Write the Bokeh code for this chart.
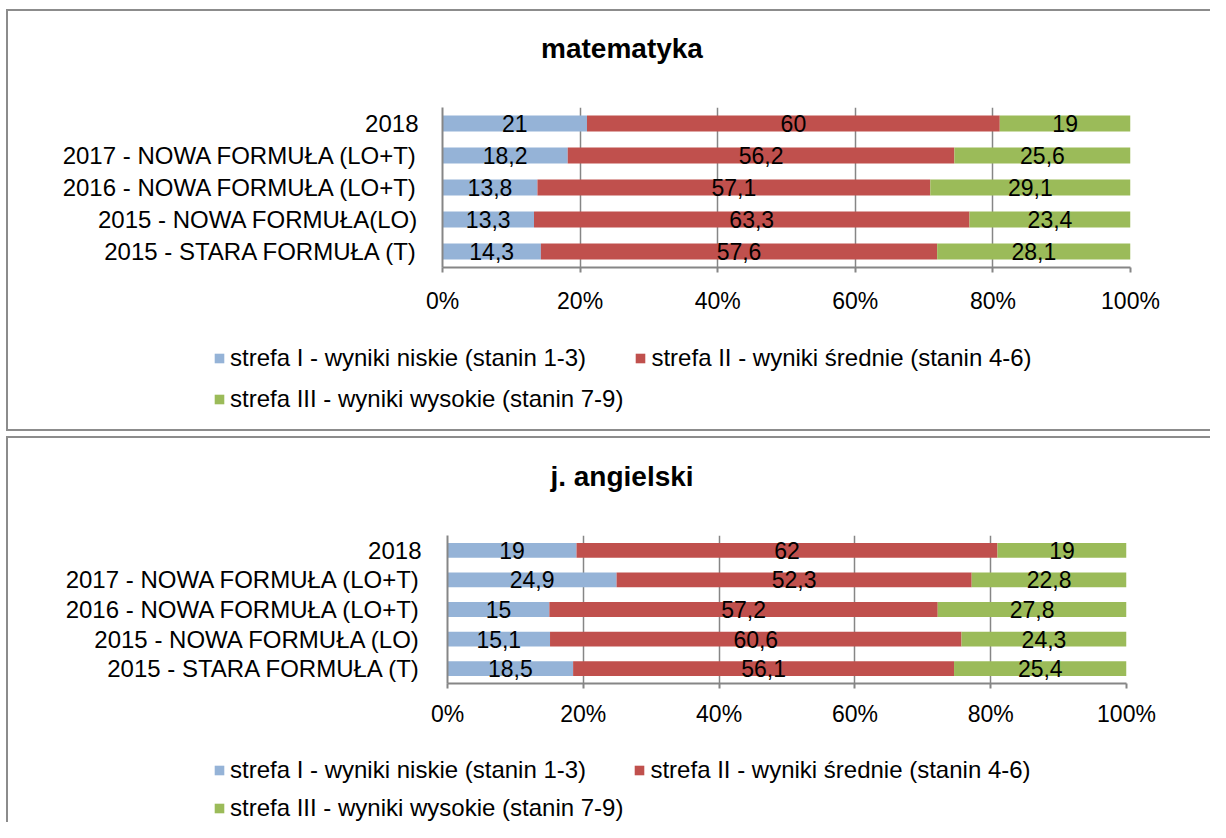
from bokeh.plotting import figure
from bokeh.models import (FactorRange, Range1d, FixedTicker, PrintfTickFormatter,
                          Legend, LegendItem, ColumnDataSource, Spacer, Label)
from bokeh.layouts import column, row
from bokeh.core.properties import value
from bokeh.embed import file_html
from bokeh.resources import INLINE

# ---------------- data ----------------
series_names = ["strefa I - wyniki niskie (stanin 1-3)",
                "strefa II - wyniki średnie (stanin 4-6)",
                "strefa III - wyniki wysokie (stanin 7-9)"]

math_title = "matematyka"
math_categories = ["2018", "2017 - NOWA FORMUŁA (LO+T)", "2016 - NOWA FORMUŁA (LO+T)",
                   "2015 - NOWA FORMUŁA(LO)", "2015 - STARA FORMUŁA (T)"]
math_low = [21, 18.2, 13.8, 13.3, 14.3]
math_mid = [60, 56.2, 57.1, 63.3, 57.6]
math_high = [19, 25.6, 29.1, 23.4, 28.1]

eng_title = "j. angielski"
eng_categories = ["2018", "2017 - NOWA FORMUŁA (LO+T)", "2016 - NOWA FORMUŁA (LO+T)",
                  "2015 - NOWA FORMUŁA (LO)", "2015 - STARA FORMUŁA (T)"]
eng_low = [19, 24.9, 15, 15.1, 18.5]
eng_mid = [62, 52.3, 57.2, 60.6, 56.1]
eng_high = [19, 22.8, 27.8, 24.3, 25.4]

x_ticks = [0, 20, 40, 60, 80, 100]

# ---------------- style ----------------
FONT = "Liberation Sans"
COLORS = ["#95B3D7", "#C0504D", "#9BBB59"]
GRID = "#868686"
BORDER = "2px solid #8c8c8c"
W = 1204


def fmt(v):
    if float(v).is_integer():
        return str(int(v))
    return ("%.1f" % v).replace(".", ",")


def blank(height, x_range, y_range, styles):
    p = figure(width=W, height=height, output_backend="svg", toolbar_location=None,
               x_range=x_range, y_range=y_range, min_border=0, frame_align=False,
               background_fill_color="white", border_fill_color="white",
               outline_line_color=None)
    p.styles = styles
    p.axis.visible = False
    p.grid.visible = False
    return p


def make_head(title, height, title_y, styles):
    p = blank(height, Range1d(0, W), Range1d(0, height), styles)
    p.add_layout(Label(x=613.5, y=title_y, text=title, text_font=FONT,
                       text_font_size="28px", text_font_style="bold",
                       text_align="center", text_baseline="middle", text_color="black"))
    return p


def make_chart(cats, low, mid, high, height, left, right, top, bottom,
               x_standoff, y_standoff, styles):
    factors = list(reversed(cats))
    p = figure(width=W, height=height, output_backend="svg", toolbar_location=None,
               y_range=FactorRange(factors=factors, range_padding=0),
               x_range=Range1d(0, 100), frame_align=False,
               min_border_left=left, min_border_right=right,
               min_border_top=top, min_border_bottom=bottom,
               background_fill_color="white", border_fill_color="white",
               outline_line_color=None)
    p.styles = styles

    src = ColumnDataSource(dict(cat=cats, s1=low, s2=mid, s3=high))
    p.hbar_stack(["s1", "s2", "s3"], y="cat", height=0.5, color=COLORS,
                 line_color=None, source=src)

    xs, ys, txt = [], [], []
    for c, a, b, d in zip(cats, low, mid, high):
        xs += [a / 2, a + b / 2, a + b + d / 2]
        ys += [c, c, c]
        txt += [fmt(a), fmt(b), fmt(d)]
    p.text(x=xs, y=ys, text=txt, text_align="center", text_baseline="middle",
           text_font=value(FONT), text_font_size="23px", text_color="black")

    p.xaxis.ticker = FixedTicker(ticks=x_ticks)
    p.xaxis.formatter = PrintfTickFormatter(format="%d%%")
    p.xaxis.axis_line_color = GRID
    p.xaxis.axis_line_width = 2
    p.xaxis.major_tick_line_color = GRID
    p.xaxis.major_tick_line_width = 2
    p.xaxis.major_tick_out = 5
    p.xaxis.major_tick_in = 0
    p.xaxis.minor_tick_line_color = None
    p.xaxis.major_label_standoff = x_standoff
    p.xaxis.major_label_text_font = FONT
    p.xaxis.major_label_text_font_size = "23px"
    p.xaxis.major_label_text_color = "black"

    p.yaxis.axis_line_color = GRID
    p.yaxis.axis_line_width = 2
    p.yaxis.major_tick_line_color = None
    p.yaxis.major_tick_out = 0
    p.yaxis.major_tick_in = 0
    p.yaxis.major_label_standoff = y_standoff
    p.yaxis.major_label_text_font = FONT
    p.yaxis.major_label_text_font_size = "24px"
    p.yaxis.major_label_text_color = "black"

    p.xgrid.grid_line_color = GRID
    p.xgrid.grid_line_width = 1.5
    p.ygrid.grid_line_color = None
    return p, src


def make_legend(cats, src, height, loc, spacing, label_h, styles):
    p = blank(height, Range1d(0, 100), FactorRange(factors=list(cats)), styles)
    # same stacked series, hidden: only their swatches are shown in the legend
    rs = p.hbar_stack(["s1", "s2", "s3"], y="cat", height=0.5, color=COLORS,
                      line_color=None, source=src)
    for r in rs:
        r.visible = False
    items = [LegendItem(label=n, renderers=[r]) for n, r in zip(series_names, rs)]
    legend = Legend(items=items, location=loc, orientation="horizontal",
                    ncols=2, glyph_width=12, glyph_height=12, label_standoff=5,
                    label_height=label_h, spacing=spacing, padding=0, margin=0,
                    border_line_color=None, background_fill_alpha=0,
                    inactive_fill_alpha=0,
                    label_text_font=FONT, label_text_font_size="24px",
                    label_text_color="black")
    p.add_layout(legend, "center")
    return p


# ----- panel 1: matematyka -----
head1 = make_head(math_title, 81, 81 - 37,
                  styles={"border-left": BORDER, "border-top": BORDER})
chart1, src1 = make_chart(math_categories, math_low, math_mid, math_high,
                          235, 434, 82, 17, 58, x_standoff=15, y_standoff=24,
                          styles={"border-left": BORDER})
foot1 = make_legend(math_categories, src1, 106, (205, 17), 11, 30,
                    styles={"border-left": BORDER, "border-bottom": BORDER})

# ----- panel 2: j. angielski -----
head2 = make_head(eng_title, 79, 79 - 38,
                  styles={"border-left": BORDER, "border-top": BORDER})
chart2, src2 = make_chart(eng_categories, eng_low, eng_mid, eng_high,
                          221, 439, 86, 20, 53, x_standoff=12, y_standoff=26,
                          styles={"border-left": BORDER})
foot2 = make_legend(eng_categories, src2, 86, (205, 0), 10, 28,
                    styles={"border-left": BORDER})

layout = row(Spacer(width=6),
             column(Spacer(height=9), head1, chart1, foot1, Spacer(height=5),
                    head2, chart2, foot2, spacing=0),
             spacing=0)
open("out.html", "w").write(file_html(layout, INLINE))
